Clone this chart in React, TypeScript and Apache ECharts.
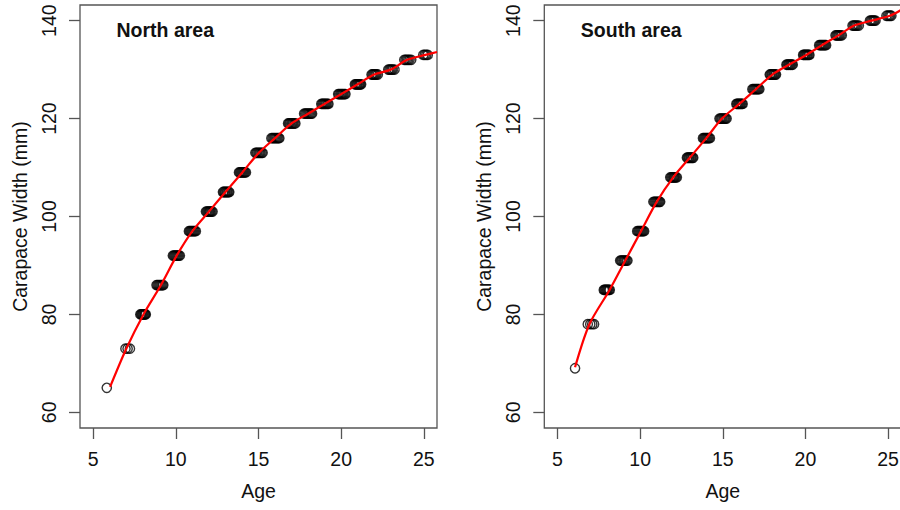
import React, { useEffect, useRef } from "react";
import * as echarts from "echarts";

// ---------- data ----------
const xTicks = [5, 10, 15, 20, 25];
const yTicks = [60, 80, 100, 120, 140];

// North area: carapace width levels and the ages observed at each level
const northWidths = [65, 73, 80, 86, 92, 97, 101, 105, 109, 113, 116, 119, 121, 123, 125, 127, 129, 130, 132, 133];
const northAges = [
  [5.82],
  [6.95, 7.08, 7.22],
  [7.85, 7.9, 7.95, 8.0, 8.05, 8.1, 8.14, 8.18],
  [8.83, 8.89, 8.95, 9.01, 9.07, 9.13, 9.19, 9.24],
  [9.82, 9.88, 9.94, 10.0, 10.06, 10.12, 10.18, 10.24],
  [10.79, 10.85, 10.91, 10.97, 11.03, 11.09, 11.15, 11.21],
  [11.82, 11.88, 11.94, 12.0, 12.05, 12.1, 12.16, 12.22],
  [12.85, 12.9, 12.96, 13.01, 13.07, 13.12, 13.18, 13.23],
  [13.82, 13.88, 13.94, 14.0, 14.06, 14.12, 14.18, 14.24],
  [14.81, 14.87, 14.93, 15.0, 15.06, 15.12, 15.19, 15.25],
  [15.78, 15.85, 15.92, 15.99, 16.06, 16.13, 16.2, 16.26],
  [16.79, 16.85, 16.91, 16.98, 17.04, 17.1, 17.17, 17.23],
  [17.76, 17.83, 17.9, 17.97, 18.04, 18.11, 18.18, 18.24],
  [18.8, 18.86, 18.92, 18.98, 19.04, 19.1, 19.17, 19.23],
  [19.82, 19.88, 19.95, 20.01, 20.07, 20.13, 20.2, 20.26],
  [20.83, 20.89, 20.95, 21.0, 21.06, 21.11, 21.16, 21.21],
  [21.84, 21.9, 21.96, 22.02, 22.08, 22.14, 22.22],
  [22.85, 22.92, 22.99, 23.06, 23.13, 23.23],
  [23.82, 23.9, 23.98, 24.06, 24.14, 24.24],
  [24.97, 25.06, 25.15, 25.24],
];
const northCurveAge = [6.02, 7.0, 8.04, 9.1, 10.05, 11.0, 12.0, 13.0, 14.02, 15.02, 16.0, 17.0, 18.0, 19.0, 20.0, 21.0, 22.0, 23.0, 24.0, 25.1, 25.8];
const northCurveWidth = [65.2, 73, 80, 86, 92, 97, 101, 105, 109, 113, 116, 119, 121, 123, 125, 127, 129, 130, 132, 133, 133.6];

// South area
const southWidths = [69, 78, 85, 91, 97, 103, 108, 112, 116, 120, 123, 126, 129, 131, 133, 135, 137, 139, 140, 141];
const southAges = [
  [6.06],
  [6.83, 6.98, 7.1, 7.21],
  [7.8, 7.85, 7.9, 7.95, 8.0, 8.05, 8.11, 8.16],
  [8.79, 8.85, 8.91, 8.98, 9.04, 9.1, 9.17, 9.23],
  [9.82, 9.88, 9.94, 10.0, 10.06, 10.12, 10.18, 10.24],
  [10.8, 10.86, 10.92, 10.98, 11.04, 11.1, 11.16, 11.21],
  [11.82, 11.88, 11.94, 12.0, 12.05, 12.1, 12.16, 12.22],
  [12.83, 12.88, 12.94, 12.99, 13.05, 13.1, 13.16, 13.21],
  [13.8, 13.86, 13.92, 13.98, 14.04, 14.1, 14.16, 14.22],
  [14.8, 14.86, 14.92, 14.98, 15.05, 15.11, 15.17, 15.23],
  [15.82, 15.87, 15.93, 15.98, 16.04, 16.09, 16.15, 16.2],
  [16.79, 16.85, 16.91, 16.97, 17.03, 17.09, 17.15, 17.21],
  [17.84, 17.89, 17.95, 18.0, 18.06, 18.11, 18.17, 18.22],
  [18.85, 18.9, 18.96, 19.01, 19.07, 19.12, 19.18, 19.23],
  [19.86, 19.91, 19.97, 20.02, 20.08, 20.13, 20.19, 20.24],
  [20.83, 20.89, 20.95, 21.01, 21.07, 21.13, 21.19, 21.25],
  [21.82, 21.88, 21.94, 22.0, 22.06, 22.13, 22.2],
  [22.85, 22.92, 22.99, 23.06, 23.14, 23.23],
  [23.9, 23.97, 24.04, 24.11, 24.17, 24.24],
  [24.9, 24.98, 25.06, 25.13, 25.2],
];
const southCurveAge = [6.06, 6.93, 8.15, 9.1, 10.05, 11.0, 12.0, 13.0, 14.0, 14.95, 16.0, 17.0, 18.0, 19.0, 20.05, 21.0, 22.0, 22.95, 24.0, 25.1, 25.8];
const southCurveWidth = [69.2, 78, 85, 91, 97, 103, 108, 112, 116, 120, 123, 126, 129, 131, 133, 135, 137, 139, 140, 141, 142.2];

const panelTitles = ["North area", "South area"];

// ---------- helpers ----------
const FONT = "'Liberation Sans', Arial, Helvetica, sans-serif";
const AXIS_COLOR = "#555555";
const TEXT_COLOR = "#111111";

function points(widths: number[], ages: number[][]) {
  const out: number[][] = [];
  widths.forEach((w, i) => ages[i].forEach((a) => out.push([a, w])));
  return out;
}
function curve(ages: number[], widths: number[]) {
  return ages.map((a, i) => [a, widths[i]]);
}

export default function App() {
  const ref = useRef<HTMLDivElement>(null);

  useEffect(() => {
    if (!ref.current) return;
    const chart = echarts.init(ref.current, undefined, { renderer: "svg" });

    const gridLefts = [80, 544.3];
    const grids = gridLefts.map((l) => ({
      left: l,
      top: 5,
      width: 357,
      height: 423,
      show: true,
      borderColor: AXIS_COLOR,
      borderWidth: 1.3,
      backgroundColor: "transparent",
      containLabel: false,
    }));

    const xAxes = [0, 1].map((g) => ({
      gridIndex: g,
      type: "value",
      min: 4.2,
      max: 25.8,
      name: "Age",
      nameLocation: "middle",
      nameGap: 53,
      nameTextStyle: { fontFamily: FONT, fontSize: 19.5, color: TEXT_COLOR },
      axisLine: { show: false },
      splitLine: { show: false },
      axisTick: {
        show: true,
        inside: false,
        length: 11,
        lineStyle: { color: AXIS_COLOR, width: 1.3 },
        customValues: xTicks,
      },
      axisLabel: {
        customValues: xTicks,
        fontFamily: FONT,
        fontSize: 19.5,
        color: TEXT_COLOR,
        margin: 21,
      },
    }));

    const yAxes = [0, 1].map((g) => ({
      gridIndex: g,
      type: "value",
      min: 56.8,
      max: 143.2,
      name: "Carapace Width (mm)",
      nameLocation: "middle",
      nameRotate: 90,
      nameGap: 50,
      nameTextStyle: { fontFamily: FONT, fontSize: 19.5, color: TEXT_COLOR },
      axisLine: { show: false },
      splitLine: { show: false },
      axisTick: {
        show: true,
        inside: false,
        length: 11,
        lineStyle: { color: AXIS_COLOR, width: 1.3 },
        customValues: yTicks,
      },
      axisLabel: {
        customValues: yTicks,
        rotate: 90,
        fontFamily: FONT,
        fontSize: 19.5,
        color: TEXT_COLOR,
        margin: 21,
      },
    }));

    const scatterStyle = {
      type: "scatter",
      symbol: "circle",
      symbolSize: 9.3,
      itemStyle: { color: "transparent", borderColor: "#000000", borderWidth: 1.4 },
      clip: true,
      z: 2,
    };
    const lineStyle = {
      type: "line",
      showSymbol: false,
      smooth: 0.3,
      lineStyle: { color: "#ff0000", width: 2.2 },
      clip: true,
      z: 3,
    };

    chart.setOption({
      animation: false,
      backgroundColor: "#ffffff",
      title: panelTitles.map((t, i) => ({
        text: t,
        left: gridLefts[i] + 36.5,
        top: 20,
        padding: 0,
        textStyle: { fontFamily: FONT, fontSize: 19.5, fontWeight: "bold", color: TEXT_COLOR },
      })),
      grid: grids,
      xAxis: xAxes,
      yAxis: yAxes,
      series: [
        { ...scatterStyle, xAxisIndex: 0, yAxisIndex: 0, data: points(northWidths, northAges) },
        { ...lineStyle, xAxisIndex: 0, yAxisIndex: 0, data: curve(northCurveAge, northCurveWidth) },
        { ...scatterStyle, xAxisIndex: 1, yAxisIndex: 1, data: points(southWidths, southAges) },
        { ...lineStyle, xAxisIndex: 1, yAxisIndex: 1, data: curve(southCurveAge, southCurveWidth) },
      ],
    });

    return () => chart.dispose();
  }, []);

  return (
    <div
      style={{
        position: "fixed",
        left: 0,
        top: 0,
        width: 900,
        height: 510,
        overflow: "hidden",
        background: "#ffffff",
      }}
    >
      <div ref={ref} style={{ width: 920, height: 510 }} />
    </div>
  );
}
